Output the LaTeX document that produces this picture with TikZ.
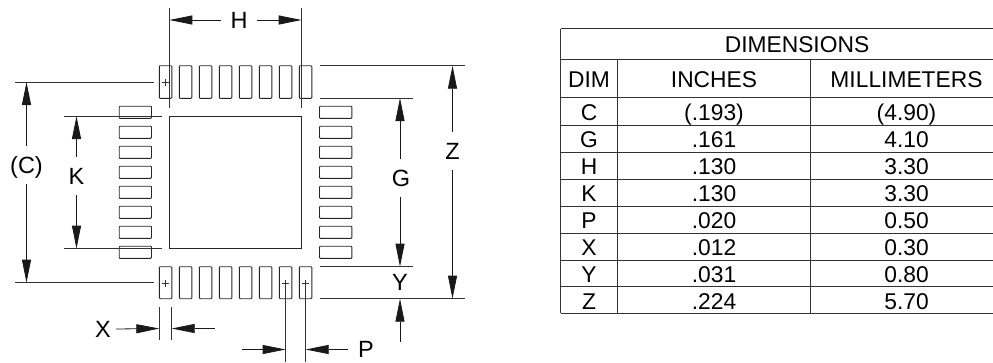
\documentclass[tikz,border=0pt]{standalone}
\usepackage{fontspec}
\setmainfont{Liberation Sans}
\usetikzlibrary{arrows.meta}
\tikzset{
  pad/.style={draw=black!85,line width=0.9pt,rounded corners=0.8pt},
  extline/.style={draw=black!80,line width=0.9pt},
  dimline/.style={draw=black!90,line width=0.8pt,-{Triangle[length=23pt,width=9pt]}},
  dimlabel/.style={font=\fontsize{23.5}{24}\selectfont,text height=16.7pt,text depth=0pt,inner xsep=9.5pt,inner ysep=10pt},
  cell/.style={font=\fontsize{22.8}{23}\selectfont,text height=16.2pt,text depth=0pt,inner sep=0pt},
  rule/.style={draw=black!80,line width=1pt}
}
\begin{document}
\begin{tikzpicture}[x=1pt,y=-1pt]
  \useasboundingbox (0,0) rectangle (993,362);

  % Package outline
  \draw[pad,rounded corners=0pt] (169.3,116) rectangle (301.7,248.7);
  \foreach \x in {159.3,179.3,...,300} {
    \draw[pad] (\x,65.7) rectangle ++(12.5,32.6);
    \draw[pad] (\x,266.7) rectangle ++(12.5,32);
  }
  \foreach \y in {106.2,126.2,...,250} {
    \draw[pad] (119.2,\y) rectangle ++(32.3,12.2);
    \draw[pad] (319.5,\y) rectangle ++(32.3,12.2);
  }

  % Pad centre marks
  \foreach \x/\y in {165.5/82,165.5/283,285.7/283,305.7/283} {
    \draw[black!80,line width=0.6pt] (\x-3.5,\y) -- (\x+3.5,\y) (\x,\y-3.5) -- (\x,\y+3.5);
  }

  % Extension lines
  \draw[extline] (169.3,8) -- (169.3,108);
  \draw[extline] (301.7,8) -- (301.7,108);
  \draw[extline] (15,82) -- (154,82);
  \draw[extline] (15,282.7) -- (154,282.7);
  \draw[extline] (64,116) -- (162,116);
  \draw[extline] (64,248.7) -- (162,248.7);
  \draw[extline] (319.5,65.7) -- (464.5,65.7);
  \draw[extline] (319.5,298.7) -- (464.5,298.7);
  \draw[extline] (319.5,98) -- (412.5,98);
  \draw[extline] (319.5,266.7) -- (412.5,266.7);
  \draw[extline] (159.3,307) -- (159.3,340);
  \draw[extline] (171.7,307) -- (171.7,340);
  \draw[extline] (285.7,283) -- (285.7,362);
  \draw[extline] (305.7,283) -- (305.7,362);

  % Dimension labels
  \node[dimlabel] (hlabel) at (239,20) {H};
  \node[dimlabel] (clabel) at (26.5,165) {(C)};
  \node[dimlabel] (klabel) at (76.5,176) {K};
  \node[dimlabel] (glabel) at (401,178) {G};
  \node[dimlabel] (zlabel) at (452.5,151) {Z};
  \node[dimlabel,inner ysep=0pt] (ylabel) at (400,282) {Y};
  \node[dimlabel,inner xsep=5pt] (xlabel) at (103,329) {X};
  \node[dimlabel] (plabel) at (366,349.5) {P};

  % Ends of the dimension arrows
  \coordinate (htop) at (169.3,20);
  \coordinate (hbot) at (301.7,20);
  \coordinate (ctop) at (26.5,82);
  \coordinate (cbot) at (26.5,282.7);
  \coordinate (ktop) at (76.5,116);
  \coordinate (kbot) at (76.5,248.7);
  \coordinate (gtop) at (400,98);
  \coordinate (gbot) at (400,266.7);
  \coordinate (ztop) at (452.5,65.7);
  \coordinate (zbot) at (452.5,298.7);
  \coordinate (ytip) at (400,298.7);
  \coordinate (ytail) at (400,342);
  \coordinate (xleft) at (159.3,328.5);
  \coordinate (xright) at (171.7,328.5);
  \coordinate (xtail) at (214.7,328.5);
  \coordinate (pleft) at (285.7,349.5);
  \coordinate (pright) at (305.7,349.5);
  \coordinate (ptail) at (242,349.5);

  % Dimension arrows
  \draw[dimline] (hlabel.west) -- (htop);
  \draw[dimline] (hlabel.east) -- (hbot);
  \draw[dimline] (klabel.north) -- (ktop);
  \draw[dimline] (klabel.south) -- (kbot);
  \draw[dimline] (clabel.north) -- (ctop);
  \draw[dimline] (clabel.south) -- (cbot);
  \draw[dimline] (glabel.north -| gtop) -- (gtop);
  \draw[dimline] (glabel.south -| gbot) -- (gbot);
  \draw[dimline] (zlabel.north) -- (ztop);
  \draw[dimline] (zlabel.south) -- (zbot);
  \draw[dimline] (ytail) -- (ytip);
  \draw[dimline] (xlabel.east) -- (xleft);
  \draw[dimline] (xtail) -- (xright);
  \draw[dimline] (ptail) -- (pleft);
  \draw[dimline] (plabel.west) -- (pright);

  % Table rules
  \foreach \y in {28.7,59.3,97.7,125,152.3,179,206,233,260,286.7,313.3} {
    \draw[rule] (560.5,\y) -- (993,\y);
  }
  \draw[rule] (560.5,28.7) -- (560.5,313.3);
  \draw[rule] (617.7,59.3) -- (617.7,313.3);
  \draw[rule] (810.7,59.3) -- (810.7,313.3);

  % Table text
  \node[cell] (title) at (797,44) {DIMENSIONS};
  \node[cell] (dimhead) at (589,79) {DIM};
  \node[cell] (inhead) at (714,79) {INCHES};
  \node[cell] (mmhead) at (906.5,79) {MILLIMETERS};
  \foreach \name/\inch/\mm [count=\i from 0] in {C/(.193)/(4.90),G/.161/4.10,H/.130/3.30,K/.130/3.30,P/.020/0.50,X/.012/0.30,Y/.031/0.80,Z/.224/5.70} {
    \node[cell] (dim\i) at (589,112+27*\i) {\name};
    \node[cell] (in\i) at (714,112+27*\i) {\inch};
    \node[cell] (mm\i) at (906.5,112+27*\i) {\mm};
  }
\end{tikzpicture}
\end{document}
